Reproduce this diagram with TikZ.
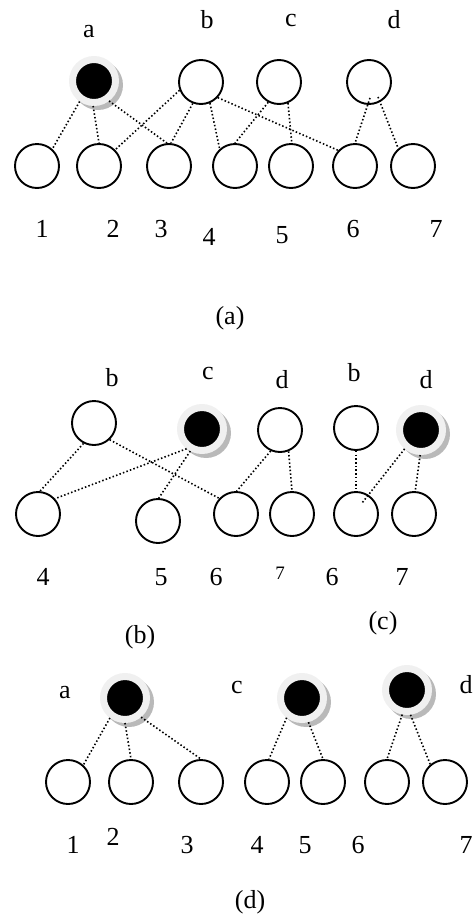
\documentclass[tikz,border=0pt]{standalone}
\usepackage{fontspec}
\setmainfont{Liberation Serif}
\usetikzlibrary{shadows}

\begin{document}
\begin{tikzpicture}[x=1pt,y=-1pt,
  leaf/.style={circle,draw=black,line width=1.9pt,minimum size=44pt,inner sep=0pt},
  hub/.style={circle,fill=black,draw=gray!12,line width=7pt,minimum size=43pt,inner sep=0pt,
    drop shadow={shadow xshift=3.5pt,shadow yshift=-3.5pt,shadow scale=1.16,fill=gray!55,opacity=1}},
  link/.style={line width=1.6pt,dash pattern=on 1.5pt off 2.2pt},
  lbl/.style={font=\fontsize{26}{30}\selectfont,inner sep=0pt},
  smalllbl/.style={font=\fontsize{19}{22}\selectfont,inner sep=0pt}]

\useasboundingbox (0,0) rectangle (474,916);

% ---------- (a): full graph ----------
\node[hub]  (aA) at (94,81) {};
\node[leaf] (bA) at (201,82) {};
\node[leaf] (cA) at (279,82) {};
\node[leaf] (dA) at (369,82) {};
\foreach \n/\x in {1/37,2/99,3/169,4/235,5/291,6/355,7/413}
  \node[leaf] (A\n) at (\x,166) {};

\node[lbl] (laA) at (89,32)  {a};
\node[lbl] (lbA) at (207,20) {b};
\node[lbl] (lcA) at (291,20) {c};
\node[lbl] (ldA) at (394,20) {d};
\node[lbl] (l1A) at (42,229)  {1};
\node[lbl] (l2A) at (113,229) {2};
\node[lbl] (l3A) at (161,229) {3};
\node[lbl] (l4A) at (209,237) {4};
\node[lbl] (l5A) at (282,235) {5};
\node[lbl] (l6A) at (353,229) {6};
\node[lbl] (l7A) at (436,229) {7};
\node[lbl] (capA) at (230,318) {(a)};

\draw[link] (aA.-125) -- (A1.48);
\draw[link] (aA.-92)  -- (A2.90);
\draw[link] (aA.-53)  -- (A3.95);
\draw[link] (bA.-159) -- (A2.45);
\draw[link] (bA.-111) -- (A3.85);
\draw[link] (bA.-67)  -- (A4.132);
\draw[link] (bA.-43)  -- (A6.137);
\draw[link] (cA.-118) -- (A4.90);
\draw[link] (cA.-67)  -- (A5.88);
\draw[link] ([xshift=1pt,yshift=7pt]dA.south) -- (A6.90);
\draw[link] ([xshift=9pt,yshift=8pt]dA.south) -- (A7.130);

% ---------- (b) and (c) ----------
\node[leaf] (bB) at (94,423) {};
\node[hub]  (cB) at (202,429) {};
\node[leaf] (dB) at (280,430) {};
\node[leaf] (bC) at (356,428) {};
\node[hub]  (dC) at (421,430) {};

\node[leaf] (B4) at (38,514) {};
\node[leaf] (B5) at (158,521) {};
\node[leaf] (B6) at (236,514) {};
\node[leaf] (B7) at (292,514) {};
\node[leaf] (C6) at (356,514) {};
\node[leaf] (C7) at (414,514) {};

\node[lbl] (lbB) at (112,378) {b};
\node[lbl] (lcB) at (208,373) {c};
\node[lbl] (ldB) at (282,380) {d};
\node[lbl] (lbC) at (354,373) {b};
\node[lbl] (ldC) at (426,380) {d};
\node[lbl] (l4B) at (43,577)  {4};
\node[lbl] (l5B) at (161,577) {5};
\node[lbl] (l6B) at (216,577) {6};
\node[smalllbl] (l7B) at (280,573) {7};
\node[lbl] (l6C) at (332,577) {6};
\node[lbl] (l7C) at (402,577) {7};
\node[lbl] (capB) at (140,637) {(b)};
\node[lbl] (capC) at (383,623) {(c)};

\draw[link] (bB.-117) -- (B4.85);
\draw[link] (bB.-47)  -- (B6.137);
\draw[link] (cB.-128) -- (B4.42);
\draw[link] (cB.-118) -- (B5.88);
\draw[link] (dB.-114) -- (B6.88);
\draw[link] (dB.-68)  -- (B7.90);
\draw[link] (bC.-90)  -- (C6.90);
\draw[link] (dC.-131) -- ([xshift=6pt,yshift=11pt]C6.center);
\draw[link] (dC.-92)  -- (C7.87);

% ---------- (d) ----------
\node[hub] (aD) at (125,698) {};
\node[hub] (cD) at (302,698) {};
\node[hub] (dD) at (407,690) {};
\foreach \n/\x in {1/68,2/131,3/201,4/267,5/323,6/387,7/445}
  \node[leaf] (D\n) at (\x,782) {};

\node[lbl] (laD) at (65,693)  {a};
\node[lbl] (lcD) at (237,687) {c};
\node[lbl] (ldD) at (466,685) {d};
\node[lbl] (l1D) at (73,845)  {1};
\node[lbl] (l2D) at (113,837) {2};
\node[lbl] (l3D) at (187,845) {3};
\node[lbl] (l4D) at (257,845) {4};
\node[lbl] (l5D) at (305,845) {5};
\node[lbl] (l6D) at (358,845) {6};
\node[lbl] (l7D) at (466,845) {7};
\node[lbl] (capD) at (250,902) {(d)};

\draw[link] (aD.-127) -- (D1.48);
\draw[link] (aD.-90)  -- (D2.90);
\draw[link] (aD.-50)  -- (D3.90);
\draw[link] (cD.-128) -- (D4.85);
\draw[link] (cD.-75)  -- (D5.90);
\draw[link] (dD.-101) -- (D6.90);
\draw[link] (dD.-82)  -- (D7.130);

\end{tikzpicture}
\end{document}
